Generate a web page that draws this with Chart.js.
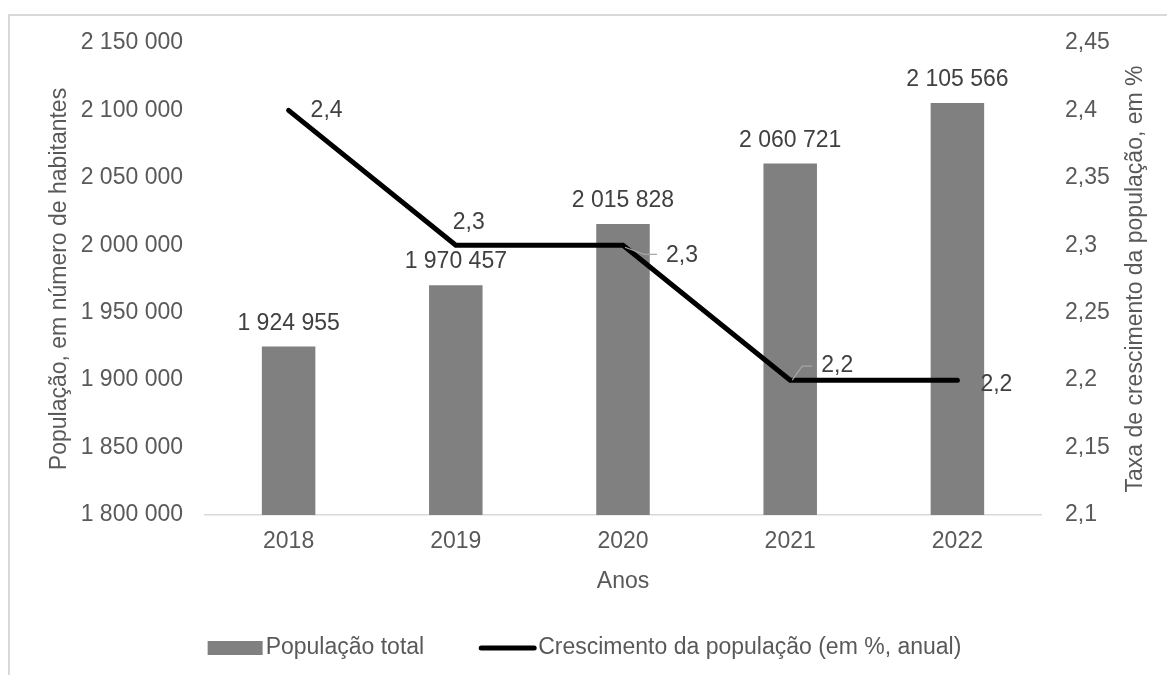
<!DOCTYPE html>
<html>
<head>
<meta charset="utf-8">
<script src="https://cdn.jsdelivr.net/npm/chart.js@4/dist/chart.umd.min.js"></script>
<style>
  body { margin: 0; background: #fff; overflow: hidden; }
  #wrap { position: relative; width: 1167px; height: 675px; }
  #frame { position: absolute; left: 8px; top: 14px; width: 1200px; height: 700px; border: 2px solid #d9d9d9; box-sizing: border-box; }
  canvas { position: absolute; left: 0; top: 0; }
</style>
</head>
<body>
<div id="wrap">
  <div id="frame"></div>
  <canvas id="chart" width="1167" height="675"></canvas>
</div>
<script>
const anos = ['2018', '2019', '2020', '2021', '2022'];
const populacao = [1924955, 1970457, 2015828, 2060721, 2105566];
const crescimento = [2.4, 2.3, 2.3, 2.2, 2.2];

const FONT = '"Liberation Sans", Arial, sans-serif';
const textGrey = '#595959';
const rightTitle = 'Taxa de crescimento da população, em %';

const fmtPop = v => Math.round(v).toString().replace(/\B(?=(\d{3})+(?!\d))/g, ' ');
const fmtPct = v => (Math.round(v * 100) / 100).toString().replace('.', ',');

// where the labels of the line go, relative to each point
const lineLabelPos = [
  { dx: 22, dy: 0, align: 'left' },
  { dx: 13, dy: -23, align: 'center' },
  { dx: 43, dy: 10, align: 'left', leader: [[2, 2], [21, 9], [34, 9]] },
  { dx: 31, dy: -14, align: 'left', leader: [[2, 0], [12, -14], [22, -14]] },
  { dx: 23, dy: 5, align: 'left' }
];

const labelsPlugin = {
  id: 'labels',
  afterDatasetsDraw(chart) {
    const ctx = chart.ctx;
    ctx.save();
    ctx.font = '23px ' + FONT;
    ctx.fillStyle = '#404040';
    ctx.textBaseline = 'middle';

    const bars = chart.getDatasetMeta(0).data;
    ctx.textAlign = 'center';
    bars.forEach((b, i) => ctx.fillText(fmtPop(populacao[i]), b.x, b.y - 23));

    const pts = chart.getDatasetMeta(1).data;
    pts.forEach((p, i) => {
      const pos = lineLabelPos[i];
      if (pos.leader) {
        ctx.strokeStyle = '#a6a6a6';
        ctx.lineWidth = 1.2;
        ctx.beginPath();
        pos.leader.forEach(([lx, ly], k) => k ? ctx.lineTo(p.x + lx, p.y + ly) : ctx.moveTo(p.x + lx, p.y + ly));
        ctx.stroke();
      }
      ctx.textAlign = pos.align;
      ctx.fillText(fmtPct(crescimento[i]), p.x + pos.dx, p.y + pos.dy);
    });
    ctx.restore();
  },
  afterDraw(chart) {
    const ctx = chart.ctx;
    ctx.save();
    ctx.font = '23px ' + FONT;
    ctx.textBaseline = 'middle';

    // right axis title, read bottom to top like the left one
    const area = chart.chartArea;
    ctx.save();
    ctx.translate(chart.scales.y1.right - 31, (area.top + area.bottom) / 2);
    ctx.rotate(-Math.PI / 2);
    ctx.textAlign = 'center';
    ctx.fillStyle = textGrey;
    ctx.fillText(rightTitle, 0, 0);
    ctx.restore();

    // legend
    ctx.textAlign = 'left';
    const t1 = chart.data.datasets[0].label;
    const t2 = chart.data.datasets[1].label;
    const w1 = ctx.measureText(t1).width;
    const w2 = ctx.measureText(t2).width;
    const total = 55 + 3 + w1 + 55 + 57 + 2 + w2;
    let x = chart.width / 2 - total / 2 + 1;
    const y = 648;
    ctx.fillStyle = '#808080';
    ctx.fillRect(x, y - 7, 55, 14);
    x += 58;
    ctx.fillStyle = textGrey;
    ctx.fillText(t1, x, y);
    x += w1 + 55;
    ctx.strokeStyle = '#000';
    ctx.lineWidth = 5;
    ctx.lineCap = 'round';
    ctx.beginPath();
    ctx.moveTo(x + 2, y);
    ctx.lineTo(x + 55, y);
    ctx.stroke();
    x += 59;
    ctx.fillText(t2, x, y);
    ctx.restore();
  }
};

new Chart(document.getElementById('chart'), {
  type: 'bar',
  data: {
    labels: anos,
    datasets: [
      {
        type: 'bar',
        label: 'População total',
        data: populacao,
        backgroundColor: '#808080',
        categoryPercentage: 1,
        barPercentage: 0.32,
        yAxisID: 'y',
        order: 1
      },
      {
        type: 'line',
        label: 'Crescimento da população (em %, anual)',
        data: crescimento,
        borderColor: '#000',
        borderWidth: 5,
        borderCapStyle: 'round',
        pointRadius: 0,
        tension: 0,
        yAxisID: 'y1',
        order: 0
      }
    ]
  },
  options: {
    responsive: false,
    animation: false,
    layout: { padding: { top: 43, bottom: 75, left: 0, right: 0 } },
    plugins: { legend: { display: false }, tooltip: { enabled: false } },
    scales: {
      x: {
        grid: { display: false, drawTicks: false },
        border: { color: '#d9d9d9', width: 1.5 },
        ticks: { color: textGrey, font: { family: FONT, size: 23 }, padding: 13 },
        title: { display: true, text: 'Anos', color: textGrey, font: { family: FONT, size: 23 }, padding: { top: 0, bottom: 5 } },
        afterFit(s) { s.height = 85; }
      },
      y: {
        position: 'left',
        min: 1800000,
        max: 2150000,
        grid: { display: false, drawTicks: false },
        border: { display: false },
        ticks: { stepSize: 50000, color: textGrey, font: { family: FONT, size: 23 }, padding: 22, callback: v => fmtPop(v) },
        title: { display: true, text: 'População, em número de habitantes', color: textGrey, font: { family: FONT, size: 23 }, padding: { top: 46, bottom: 0 } },
        afterFit(s) { s.width = 205; }
      },
      y1: {
        position: 'right',
        min: 2.1,
        max: 2.45,
        grid: { display: false, drawTicks: false },
        border: { display: false },
        ticks: { stepSize: 0.05, color: textGrey, font: { family: FONT, size: 23 }, padding: 24, callback: v => fmtPct(v) },
        afterFit(s) { s.width = 126; }
      }
    }
  },
  plugins: [labelsPlugin]
});
</script>
</body>
</html>
